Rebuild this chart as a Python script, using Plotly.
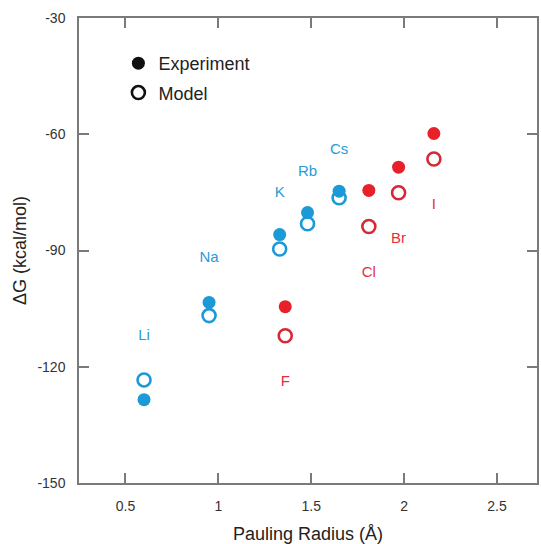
import plotly.graph_objects as go

# Cations
cation_names = ["Li", "Na", "K", "Rb", "Cs"]
cation_radius = [0.60, 0.95, 1.33, 1.48, 1.65]
cation_exp = [-128.5, -103.4, -85.9, -80.2, -74.7]
cation_model = [-123.4, -106.8, -89.6, -83.1, -76.4]
cation_label_y = [-112.0, -92.1, -75.1, -69.7, -64.1]

# Anions
anion_names = ["F", "Cl", "Br", "I"]
anion_radius = [1.36, 1.81, 1.97, 2.16]
anion_exp = [-104.5, -74.5, -68.5, -59.8]
anion_model = [-112.0, -83.8, -75.1, -66.4]
anion_label_y = [-123.9, -95.9, -87.0, -78.2]

x_ticks = [0.5, 1, 1.5, 2, 2.5]
x_ticklabels = ["0.5", "1", "1.5", "2", "2.5"]
y_ticks = [-150, -120, -90, -60, -30]
y_ticklabels = ["-150", "-120", "-90", "-60", "-30"]

BLUE = "#1B9AD7"
RED = "#E8202A"
RED_OPEN = "#D42A36"
FONT = "Liberation Sans, Arial, sans-serif"

fig = go.Figure()

# Model (open) markers
fig.add_trace(go.Scatter(x=cation_radius, y=cation_model, mode="markers", showlegend=False,
                         marker=dict(symbol="circle-open", size=13, color=BLUE, line=dict(width=2.6, color=BLUE))))
fig.add_trace(go.Scatter(x=anion_radius, y=anion_model, mode="markers", showlegend=False,
                         marker=dict(symbol="circle-open", size=13, color=RED_OPEN, line=dict(width=2.6, color=RED_OPEN))))
# Experiment (filled) markers
fig.add_trace(go.Scatter(x=cation_radius, y=cation_exp, mode="markers", showlegend=False,
                         marker=dict(symbol="circle", size=13, color=BLUE)))
fig.add_trace(go.Scatter(x=anion_radius, y=anion_exp, mode="markers", showlegend=False,
                         marker=dict(symbol="circle", size=13, color=RED)))

# Labels
fig.add_trace(go.Scatter(x=cation_radius, y=cation_label_y, mode="text", text=cation_names, showlegend=False,
                         textfont=dict(family=FONT, size=15, color="#2A9BD6")))
fig.add_trace(go.Scatter(x=anion_radius, y=anion_label_y, mode="text", text=anion_names, showlegend=False,
                         textfont=dict(family=FONT, size=15, color="#E2303C")))

# Legend entries (black)
fig.add_trace(go.Scatter(x=[None], y=[None], mode="markers", name="Experiment", legendgroup="a",
                         marker=dict(symbol="circle", size=13, color="#111111")))
fig.add_trace(go.Scatter(x=[None], y=[None], mode="markers", name="Model", legendgroup="b",
                         marker=dict(symbol="circle-open", size=13, color="#111111", line=dict(width=2.6, color="#111111"))))

axis_common = dict(
    showgrid=False, zeroline=False, showline=True, linecolor="#7a7a7a", linewidth=1.5,
    mirror="ticks", ticks="inside", ticklen=10, tickwidth=1.5, tickcolor="#7a7a7a",
    tickfont=dict(family=FONT, size=14, color="#333333"), automargin=False,
)

fig.update_layout(
    width=541, height=544,
    margin=dict(l=79, r=4, t=18, b=61),
    paper_bgcolor="white", plot_bgcolor="white",
    xaxis=dict(range=[0.25, 2.715], tickvals=x_ticks, ticktext=x_ticklabels,
               ticklabelstandoff=9,
               title=dict(text="Pauling Radius (Å)", font=dict(family=FONT, size=18, color="#222222"), standoff=17),
               **axis_common),
    yaxis=dict(range=[-150, -30], tickvals=y_ticks, ticktext=y_ticklabels, ticklabelstandoff=9,
               title=dict(text="ΔG (kcal/mol)", font=dict(family=FONT, size=18, color="#222222"), standoff=6),
               **axis_common),
    legend=dict(x=0.086, y=0.942, xanchor="left", yanchor="top", tracegroupgap=3,
                font=dict(family=FONT, size=18, color="#222222"), bgcolor="rgba(0,0,0,0)"),
)

fig.write_html("out.html", config={"displayModeBar": False},
               post_script="document.body.style.margin='0px';document.body.style.overflow='hidden';")
